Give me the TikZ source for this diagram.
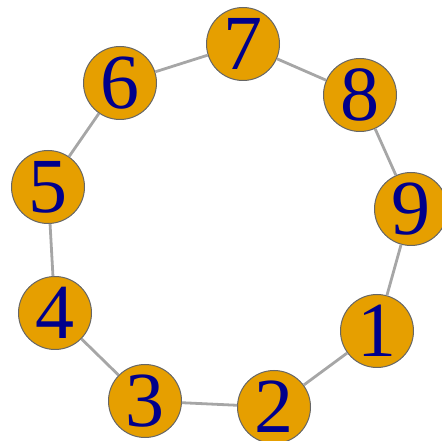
\documentclass[tikz,border=0pt]{standalone}
\usepackage{fontspec}
\setmainfont{Liberation Serif}
\usepackage{xcolor}
\definecolor{vfill}{HTML}{E69F00}
\definecolor{vtext}{HTML}{00008B}
\begin{document}
\begin{tikzpicture}[x=1pt, y=1pt,
  vtx/.style={circle, draw=black!60, line width=1pt, fill=vfill, text=vtext, minimum size=73pt, inner sep=0pt, font=\fontsize{78}{80}\selectfont},
  edge/.style={draw=black!35, line width=2.8pt}]
\useasboundingbox (0,0) rectangle (441,441);
\node[vtx] (n7) at (243,397) {7};
\node[vtx] (n6) at (120,358) {6};
\node[vtx] (n8) at (360,346) {8};
\node[vtx] (n5) at (48,254) {5};
\node[vtx] (n9) at (411,232) {9};
\node[vtx] (n4) at (55,128) {4};
\node[vtx] (n1) at (377,110) {1};
\node[vtx] (n3) at (145,40) {3};
\node[vtx] (n2) at (274,34) {2};
\draw[edge] (n1) -- (n2);
\draw[edge] (n2) -- (n3);
\draw[edge] (n3) -- (n4);
\draw[edge] (n4) -- (n5);
\draw[edge] (n5) -- (n6);
\draw[edge] (n6) -- (n7);
\draw[edge] (n7) -- (n8);
\draw[edge] (n8) -- (n9);
\draw[edge] (n9) -- (n1);
\end{tikzpicture}
\end{document}
